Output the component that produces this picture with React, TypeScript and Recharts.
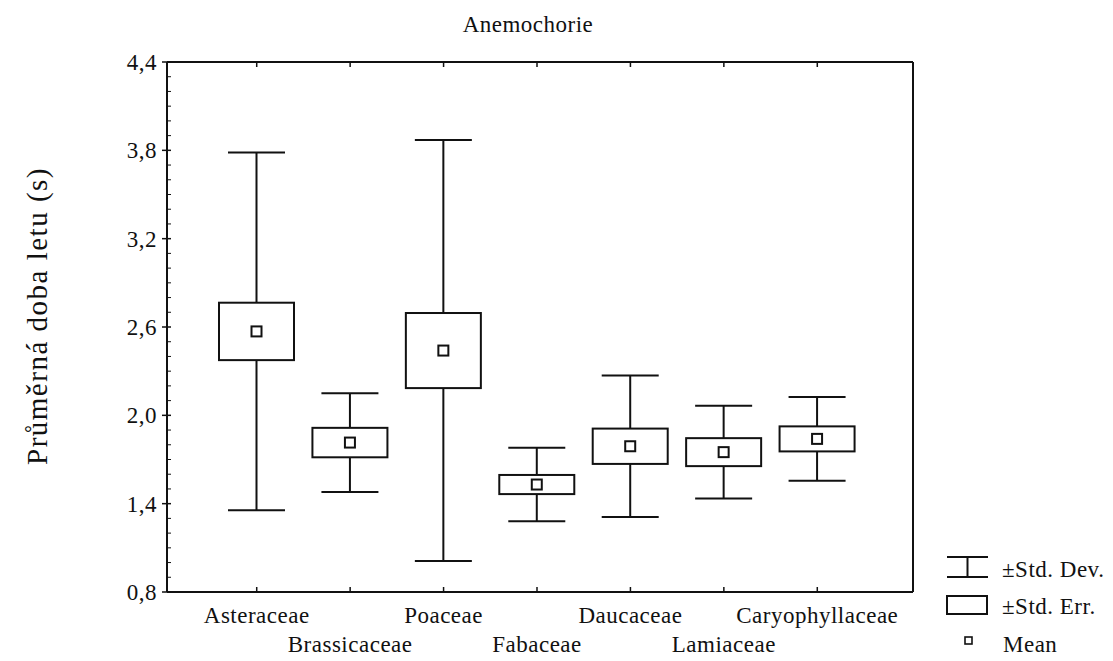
import React from "react";
import { ComposedChart, Bar, XAxis, YAxis } from "recharts";

const FONT = '"Liberation Serif", "Times New Roman", serif';
const INK = "#111";
const TEXT_SIZE = 23;
const SPACING = 0.5;

// Anemochorie: mean flight time per family, ±SE box, ±SD whiskers
const families = ["Asteraceae", "Brassicaceae", "Poaceae", "Fabaceae", "Daucaceae", "Lamiaceae", "Caryophyllaceae"];
const means = [2.57, 1.815, 2.44, 1.53, 1.79, 1.75, 1.84];
const stdErr = [0.195, 0.1, 0.255, 0.065, 0.12, 0.095, 0.085];
const stdDev = [1.215, 0.335, 1.43, 0.25, 0.48, 0.315, 0.285];

const yTicks = [0.8, 1.4, 2.0, 2.6, 3.2, 3.8, 4.4];
const yMinorTicks = Array.from({ length: 37 }, (_, i) => Math.round((0.8 + i * 0.1) * 10) / 10);

const data = families.map((name, i) => ({
  name,
  mean: means[i],
  se: stdErr[i],
  sd: stdDev[i],
}));

const isMajor = (v: number) => yTicks.some((t) => Math.abs(t - v) < 1e-6);

// one bar spans mean±sd; the shape draws whisker, SE box and mean marker inside it
function BoxShape(props: any) {
  const { x, y, width, height, payload } = props;
  const top = Math.min(y, y + height);
  const bottom = Math.max(y, y + height);
  const lo = payload.mean - payload.sd;
  const hi = payload.mean + payload.sd;
  const py = (v: number) => bottom - ((v - lo) / (hi - lo)) * (bottom - top);
  const cx = x + width / 2;
  const capHalf = (width * 0.76) / 2;
  const boxTop = py(payload.mean + payload.se);
  const boxBot = py(payload.mean - payload.se);
  const my = py(payload.mean);
  return (
    <g stroke={INK} strokeWidth={2} fill="#fff">
      <line x1={cx} x2={cx} y1={top} y2={bottom} />
      <line x1={cx - capHalf} x2={cx + capHalf} y1={top} y2={top} />
      <line x1={cx - capHalf} x2={cx + capHalf} y1={bottom} y2={bottom} />
      <rect x={x} y={boxTop} width={width} height={boxBot - boxTop} />
      <rect x={cx - 5} y={my - 5} width={10} height={10} />
    </g>
  );
}

function CategoryTick(props: any) {
  const { x, y, payload, index } = props;
  const dy = index % 2 === 0 ? 31 : 60;
  return (
    <g>
      <line x1={x} x2={x} y1={y} y2={y - 5} stroke={INK} strokeWidth={1.5} />
      <text x={x} y={y + dy} textAnchor="middle" fontFamily={FONT} fontSize={TEXT_SIZE} letterSpacing={SPACING} fill={INK}>
        {payload.value}
      </text>
    </g>
  );
}

function TopTick(props: any) {
  const { x, y } = props;
  return <line x1={x} x2={x} y1={y} y2={y + 5} stroke={INK} strokeWidth={1.5} />;
}

function LeftTick(props: any) {
  const { x, y, payload } = props;
  const v = payload.value as number;
  if (!isMajor(v)) {
    return <line x1={x} x2={x + 4} y1={y} y2={y} stroke={INK} strokeWidth={1} />;
  }
  return (
    <g>
      <line x1={x - 5} x2={x + 4} y1={y} y2={y} stroke={INK} strokeWidth={1.5} />
      <text x={x - 10} y={y} dy="0.35em" textAnchor="end" fontFamily={FONT} fontSize={TEXT_SIZE} letterSpacing={SPACING} fill={INK}>
        {v.toFixed(1).replace(".", ",")}
      </text>
    </g>
  );
}

function RightTick(props: any) {
  const { x, y } = props;
  return <line x1={x} x2={x - 4} y1={y} y2={y} stroke={INK} strokeWidth={1} />;
}

function YTitle(props: any) {
  const vb = props.viewBox;
  const cx = vb.x + 29;
  const cy = vb.y + vb.height / 2 - 11;
  return (
    <text
      x={cx}
      y={cy}
      transform={`rotate(-90 ${cx} ${cy})`}
      textAnchor="middle"
      dominantBaseline="central"
      fontFamily={FONT}
      fontSize={29}
      letterSpacing={1.5}
      fill={INK}
    >
      Průměrná doba letu (s)
    </text>
  );
}

function LegendBox() {
  return (
    <svg width={175} height={113} style={{ position: "absolute", left: 930, top: 540 }}>
      <g stroke={INK} strokeWidth={2} fill="#fff">
        <line x1={9} x2={50} y1={9} y2={9} />
        <line x1={9} x2={50} y1={29} y2={29} />
        <line x1={29.5} x2={29.5} y1={9} y2={29} />
        <rect x={9} y={48} width={40} height={18} />
        <rect x={27} y={89} width={7} height={7} strokeWidth={1.6} />
      </g>
      <g fontFamily={FONT} fontSize={TEXT_SIZE} letterSpacing={SPACING} fill={INK}>
        <text x={64} y={29}>±Std. Dev.</text>
        <text x={64} y={66}>±Std. Err.</text>
        <text x={65} y={104}>Mean</text>
      </g>
    </svg>
  );
}

export default function App() {
  return (
    <div style={{ position: "relative", width: 1105, height: 653, background: "#fff" }}>
      <div
        style={{
          position: "absolute",
          left: 0,
          top: 6,
          width: 1040,
          textAlign: "center",
          fontFamily: FONT,
          fontSize: TEXT_SIZE,
          letterSpacing: SPACING,
          lineHeight: "22px",
          color: INK,
        }}
      >
        Anemochorie
      </div>
      <ComposedChart width={1105} height={653} data={data} margin={{ top: 53, right: 199, bottom: 0, left: 0 }}>
        <XAxis
          xAxisId="bottom"
          dataKey="name"
          height={69}
          padding={{ left: 43, right: 49 }}
          tickSize={0}
          tickMargin={0}
          interval={0}
          tick={<CategoryTick />}
          tickLine={false}
          axisLine={{ stroke: INK, strokeWidth: 2 }}
        />
        <XAxis
          xAxisId="top"
          orientation="top"
          dataKey="name"
          height={1}
          padding={{ left: 43, right: 49 }}
          tickSize={0}
          tickMargin={0}
          interval={0}
          tick={<TopTick />}
          tickLine={false}
          axisLine={{ stroke: INK, strokeWidth: 2 }}
        />
        <YAxis
          yAxisId="left"
          type="number"
          domain={[0.8, 4.4]}
          ticks={yMinorTicks}
          interval={0}
          width={159}
          tickSize={0}
          tickMargin={0}
          tick={<LeftTick />}
          tickLine={false}
          axisLine={{ stroke: INK, strokeWidth: 2 }}
          label={(p: any) => <YTitle {...p} />}
        />
        <YAxis
          yAxisId="right"
          orientation="right"
          type="number"
          domain={[0.8, 4.4]}
          ticks={yMinorTicks}
          interval={0}
          width={1}
          tickSize={0}
          tickMargin={0}
          tick={<RightTick />}
          tickLine={false}
          axisLine={{ stroke: INK, strokeWidth: 2 }}
        />
        <Bar
          xAxisId="bottom"
          yAxisId="left"
          dataKey={(d: any) => [d.mean - d.sd, d.mean + d.sd]}
          barSize={75}
          shape={<BoxShape />}
          isAnimationActive={false}
        />
      </ComposedChart>
      <LegendBox />
    </div>
  );
}
